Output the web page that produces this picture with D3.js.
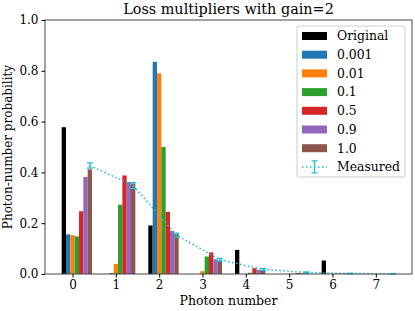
<!DOCTYPE html>
<html><head><meta charset="utf-8">
<script src="https://cdn.jsdelivr.net/npm/d3@7/dist/d3.min.js"></script>
<style>body{margin:0;background:#fff}svg{display:block}text{font-family:"DejaVu Serif",serif;fill:#000}</style>
</head><body>
<script>
const photonNumbers = [0,1,2,3,4,5,6,7];
const seriesNames = ["Original","0.001","0.01","0.1","0.5","0.9","1.0"];
const seriesColors = ["#000000","#1f77b4","#ff7f0e","#2ca02c","#d62728","#9467bd","#8c564b"];
const original = [0.578,0,0.191,0,0.095,0,0.053,0];
const loss0001 = [0.156,0.004,0.835,0,0,0,0,0];
const loss001  = [0.153,0.040,0.790,0.011,0,0,0,0];
const loss01   = [0.148,0.273,0.500,0.069,0.005,0.001,0,0];
const loss05   = [0.247,0.388,0.245,0.085,0.023,0.004,0.001,0];
const loss09   = [0.382,0.362,0.170,0.058,0.016,0.003,0.001,0];
const loss10   = [0.412,0.356,0.158,0.053,0.016,0.003,0.001,0];
const measured = [0.427,0.348,0.153,0.056,0.018,0.006,0.002,0.001];
const measuredErr = [0.010,0.012,0.008,0.006,0.004,0.002,0.001,0.001];
const yTicks = [0.0,0.2,0.4,0.6,0.8,1.0];
const allSeries = [original,loss0001,loss001,loss01,loss05,loss09,loss10];
const barWidth = 0.1;
const offsets = [-0.2,-0.1,0,0.1,0.2,0.3,0.4];
const measuredOffset = 0.4;

const W=415,H=311, L=45,R=412,T=20,B=274;
const svg=d3.select("body").append("svg").attr("width",W).attr("height",H);
const x=d3.scaleLinear().domain([-0.635,7.835]).range([L,R]);
const y=d3.scaleLinear().domain([0,1]).range([B,T]);

// bars
allSeries.forEach((vals,si)=>{
  svg.append("g").selectAll("rect").data(vals).join("rect")
    .attr("x",(d,i)=>x(photonNumbers[i]+offsets[si]-barWidth/2))
    .attr("width",(d,i)=>x(photonNumbers[i]+offsets[si]+barWidth/2)-x(photonNumbers[i]+offsets[si]-barWidth/2))
    .attr("y",d=>y(d)).attr("height",d=>y(0)-y(d))
    .attr("fill",seriesColors[si]);
});
// measured
const mc="#17becf";
const line=d3.line().x((d,i)=>x(photonNumbers[i]+measuredOffset)).y(d=>y(d));
svg.append("path").datum(measured).attr("d",line).attr("fill","none")
  .attr("stroke",mc).attr("stroke-width",1.5).attr("stroke-dasharray","1.5,2.5");
const eg=svg.append("g").attr("stroke",mc).attr("stroke-width",1.2);
measured.forEach((v,i)=>{
  const cx=x(photonNumbers[i]+measuredOffset);
  const y1=y(v+measuredErr[i]), y2=y(v-measuredErr[i]);
  eg.append("line").attr("x1",cx).attr("x2",cx).attr("y1",y1).attr("y2",y2);
  eg.append("line").attr("x1",cx-3).attr("x2",cx+3).attr("y1",y1).attr("y2",y1);
  eg.append("line").attr("x1",cx-3).attr("x2",cx+3).attr("y1",y2).attr("y2",y2);
});

// frame
svg.append("rect").attr("x",L).attr("y",T).attr("width",R-L).attr("height",B-T)
  .attr("fill","none").attr("stroke","#444").attr("stroke-width",1);

// axes
const xa=svg.append("g").attr("transform",`translate(0,${B})`)
  .call(d3.axisBottom(x).tickValues(photonNumbers).tickFormat(d3.format("d")).tickSize(3.5).tickPadding(3));
const ya=svg.append("g").attr("transform",`translate(${L},0)`)
  .call(d3.axisLeft(y).tickValues(yTicks).tickFormat(d3.format(".1f")).tickSize(3.5).tickPadding(3));
[xa,ya].forEach(a=>{a.select(".domain").remove();
  a.selectAll("text").attr("font-family","DejaVu Serif").attr("font-size",12).attr("fill","#000");
  a.selectAll("line").attr("stroke","#000");});

svg.append("text").attr("x",(L+R)/2).attr("y",14).attr("text-anchor","middle")
  .attr("font-size",14.4).text("Loss multipliers with gain=2");
svg.append("text").attr("x",(L+R)/2).attr("y",305).attr("text-anchor","middle")
  .attr("font-size",12.5).text("Photon number");
svg.append("text").attr("transform",`translate(12,${(T+B)/2}) rotate(-90)`).attr("text-anchor","middle")
  .attr("font-size",12).text("Photon-number probability");

// legend
const lg=svg.append("g");
lg.append("rect").attr("x",297).attr("y",26).attr("width",108).attr("height",151).attr("rx",2)
  .attr("fill","#fff").attr("fill-opacity",0.8).attr("stroke","#ccc");
seriesNames.forEach((n,i)=>{
  const yy=36+i*18.7;
  lg.append("rect").attr("x",302).attr("y",yy-4).attr("width",25).attr("height",8).attr("fill",seriesColors[i]);
  lg.append("text").attr("x",337).attr("y",yy).attr("dy","0.35em").attr("font-size",12.4).text(n);
});
const yy=36+7*18.7;
lg.append("line").attr("x1",302).attr("x2",327).attr("y1",yy).attr("y2",yy).attr("stroke",mc)
  .attr("stroke-width",1.5).attr("stroke-dasharray","1.5,2.5");
lg.append("line").attr("x1",314.5).attr("x2",314.5).attr("y1",yy-6).attr("y2",yy+6).attr("stroke",mc).attr("stroke-width",1.2);
lg.append("line").attr("x1",311.5).attr("x2",317.5).attr("y1",yy-6).attr("y2",yy-6).attr("stroke",mc).attr("stroke-width",1.2);
lg.append("line").attr("x1",311.5).attr("x2",317.5).attr("y1",yy+6).attr("y2",yy+6).attr("stroke",mc).attr("stroke-width",1.2);
lg.append("text").attr("x",337).attr("y",yy).attr("dy","0.35em").attr("font-size",12.4).text("Measured");
</script>
</body></html>
